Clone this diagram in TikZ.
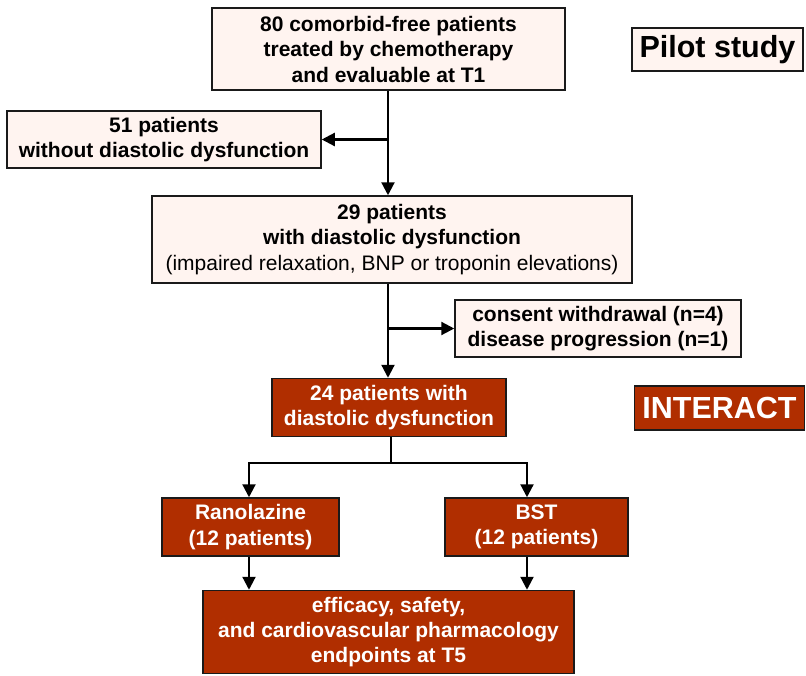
\documentclass[tikz,border=0pt]{standalone}
\usepackage{fontspec}
\setmainfont{Liberation Sans}
\usetikzlibrary{arrows.meta}
\definecolor{lightbox}{HTML}{FFF4F0}
\definecolor{darkred}{HTML}{B02E00}
\definecolor{edge}{HTML}{1A1A1A}
\tikzset{
  box/.style={draw=edge, line width=1.5pt, inner sep=0pt, align=center, font=\fontsize{21}{25.5}\selectfont\bfseries},
  lbox/.style={box, fill=lightbox, text=black},
  rbox/.style={box, fill=darkred, text=white},
  conn/.style={line width=2.2pt, draw=black},
  arr/.style={conn, -{Triangle[length=13pt,width=13pt]}}
}
\begin{document}
\begin{tikzpicture}[x=1pt,y=-1pt]
\useasboundingbox (0,0) rectangle (806,675);
\node[lbox, minimum width=353pt, minimum height=82pt] (top) at (388.5,49) {80 comorbid-free patients\\treated by chemotherapy\\and evaluable at T1};
\node[lbox, minimum width=171pt, minimum height=43pt, font=\fontsize{30.5}{36}\selectfont\bfseries] (pilot) at (717.5,49.5) {Pilot study};
\node[lbox, minimum width=314pt, minimum height=57pt] (n51) at (164,139.5) {51 patients\\without diastolic dysfunction};
\node[lbox, minimum width=480pt, minimum height=87pt] (n29) at (392,239.5) {29 patients\\with diastolic dysfunction\\{\mdseries(impaired relaxation, BNP or troponin elevations)}};
\node[lbox, minimum width=286pt, minimum height=57pt, font=\fontsize{21}{25}\selectfont\bfseries] (cons) at (598,328.5) {consent withdrawal (n=4)\\disease progression (n=1)};
\node[rbox, minimum width=234pt, minimum height=58pt] (n24) at (389,407.5) {24 patients with\\diastolic dysfunction};
\node[rbox, minimum width=170pt, minimum height=44pt, font=\fontsize{30.5}{36}\selectfont\bfseries] (interact) at (719.5,408) {INTERACT};
\node[rbox, minimum width=177pt, minimum height=58pt] (ran) at (250.5,527) {Ranolazine\\(12 patients)};
\node[rbox, minimum width=183pt, minimum height=58pt] (bst) at (536.5,527) {BST\\(12 patients)};
\node[rbox, minimum width=371pt, minimum height=83pt, font=\fontsize{21}{25}\selectfont\bfseries] (end) at (388.5,632) {efficacy, safety,\\and cardiovascular pharmacology\\endpoints at T5};
% connectors
\coordinate (tdown) at (388,0);
\draw[arr] (tdown |- top.south) -- (tdown |- n29.north);
\draw[arr] (tdown |- n51.east) -- (n51.east);
\draw[arr] (tdown |- n29.south) -- (tdown |- n24.north);
\draw[arr] (tdown |- cons.west) -- (cons.west);
\coordinate (split) at (391,463);
\coordinate (ranx) at (249,0);
\coordinate (bstx) at (527,0);
\draw[conn] (split |- n24.south) -- (split);
\draw[arr] (split) -| (ranx |- ran.north);
\draw[arr] (split) -| (bstx |- bst.north);
\draw[arr] (ranx |- ran.south) -- (ranx |- end.north);
\draw[arr] (bstx |- bst.south) -- (bstx |- end.north);
\end{tikzpicture}
\end{document}
